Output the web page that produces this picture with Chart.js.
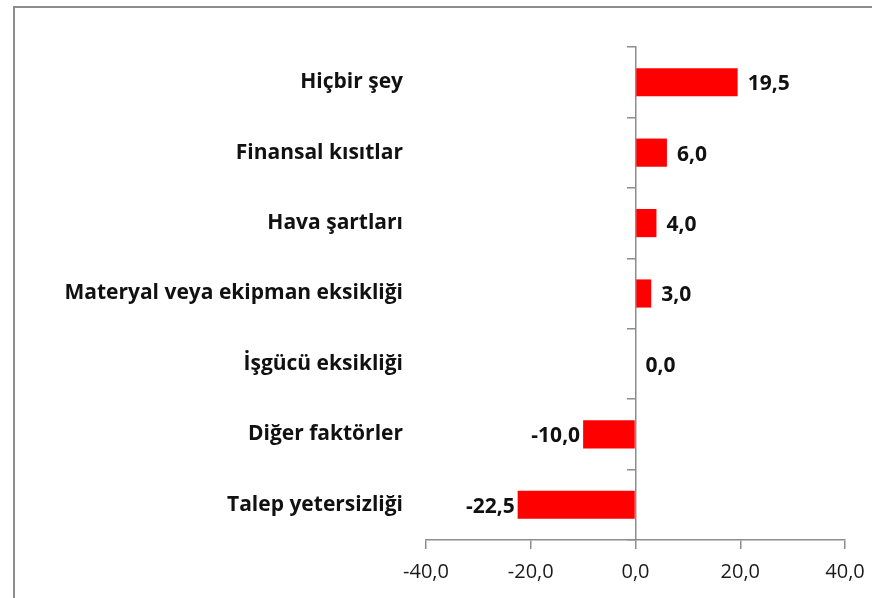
<!DOCTYPE html>
<html lang="tr">
<head>
    <meta charset="UTF-8">
    <title>Faktörler</title>
    <script src="https://cdn.jsdelivr.net/npm/chart.js"></script>
    <style>
        html, body {
            margin: 0;
            padding: 0;
            background: #ffffff;
            overflow: hidden;
        }
        .frame {
            position: absolute;
            left: 13px;
            top: 6px;
            width: 900px;
            height: 640px;
            border: 2px solid #8d8d8d;
        }
        .chart-box {
            position: absolute;
            left: 0;
            top: 0;
            width: 872px;
            height: 598px;
        }
    </style>
</head>
<body>
    <div class="frame"></div>
    <div class="chart-box">
        <canvas id="barChart"></canvas>
    </div>

    <script>
        const categories = [
            'Hiçbir şey',
            'Finansal kısıtlar',
            'Hava şartları',
            'Materyal veya ekipman eksikliği',
            'İşgücü eksikliği',
            'Diğer faktörler',
            'Talep yetersizliği'
        ];
        const values = [19.5, 6.0, 4.0, 3.0, 0.0, -10.0, -22.5];
        const xTicks = [-40, -20, 0, 20, 40];

        const axisGray = '#8d8d8d';
        const fmt = v => Number(v).toFixed(1).replace('.', ',');

        // draws the value next to each bar end
        const valueLabels = {
            id: 'valueLabels',
            afterDatasetsDraw(chart) {
                const ctx = chart.ctx;
                const meta = chart.getDatasetMeta(0);
                ctx.save();
                ctx.font = 'bold 21px "Open Sans"';
                ctx.fillStyle = '#111111';
                ctx.textBaseline = 'middle';
                meta.data.forEach((bar, i) => {
                    const v = values[i];
                    if (v < 0) {
                        ctx.textAlign = 'right';
                        ctx.fillText(fmt(v), bar.x - 3, bar.y + 2);
                    } else {
                        ctx.textAlign = 'left';
                        ctx.fillText(fmt(v), bar.x + 10, bar.y + 2);
                    }
                });
                ctx.restore();
            }
        };

        const ctx = document.getElementById('barChart').getContext('2d');
        new Chart(ctx, {
            type: 'bar',
            data: {
                labels: categories,
                datasets: [{
                    data: values,
                    backgroundColor: '#ff0000',
                    borderWidth: 0,
                    categoryPercentage: 0.4,
                    barPercentage: 1.0
                }]
            },
            options: {
                indexAxis: 'y',
                responsive: true,
                maintainAspectRatio: false,
                animation: false,
                layout: {
                    padding: { top: 47, right: 27, bottom: 0, left: 0 }
                },
                plugins: {
                    legend: { display: false },
                    tooltip: { enabled: false }
                },
                scales: {
                    x: {
                        min: -40,
                        max: 40,
                        afterBuildTicks: scale => {
                            scale.ticks = xTicks.map(v => ({ value: v }));
                        },
                        afterFit: scale => {
                            scale.height = 58;
                            scale.paddingLeft = 0;
                            scale.paddingRight = 0;
                        },
                        grid: {
                            drawOnChartArea: false,
                            drawTicks: true,
                            tickLength: 9,
                            color: axisGray,
                            lineWidth: 1.5
                        },
                        border: { color: axisGray, width: 1.5 },
                        ticks: {
                            padding: 11,
                            color: '#1a1a1a',
                            font: { family: '"Open Sans"', size: 20 },
                            callback: v => fmt(v)
                        }
                    },
                    y: {
                        type: 'category',
                        position: 'left',
                        offset: true,
                        afterFit: scale => { scale.width = 426; },
                        grid: { display: false, offset: true },
                        border: { display: false },
                        ticks: {
                            padding: 15,
                            color: '#111111',
                            font: { family: '"Open Sans"', size: 21, weight: 'bold' }
                        }
                    },
                    y0: {
                        type: 'category',
                        position: { x: 0 },
                        offset: true,
                        grid: {
                            offset: true,
                            drawOnChartArea: false,
                            drawTicks: true,
                            tickLength: 8,
                            color: axisGray,
                            lineWidth: 1.5
                        },
                        border: { color: axisGray, width: 1.5 },
                        ticks: { display: false }
                    }
                }
            },
            plugins: [valueLabels]
        });
    </script>
</body>
</html>
